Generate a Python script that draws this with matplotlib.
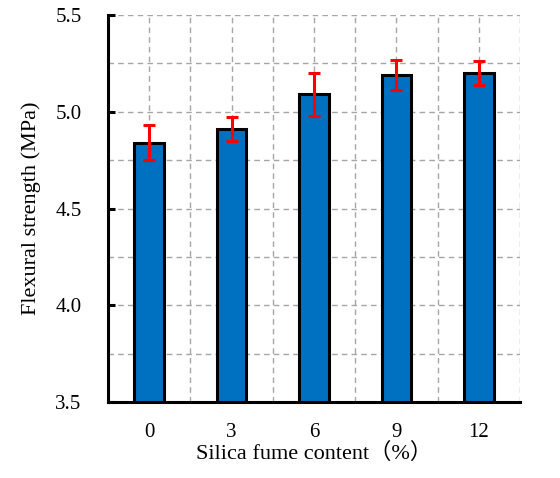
import matplotlib
matplotlib.use("Agg")
import matplotlib.pyplot as plt
from matplotlib.ticker import MultipleLocator
import numpy as np

categories = ["0", "3", "6", "9", "12"]
values = [4.84, 4.91, 5.09, 5.19, 5.20]
errors = [0.09, 0.063, 0.11, 0.078, 0.063]

plt.rcParams['font.family'] = ['Liberation Serif', 'Noto Sans CJK SC']

fig = plt.figure(figsize=(5.6, 4.78), dpi=100)
ax = fig.add_axes([108/560, 1-402/478, 412/560, 387/478])

x = np.arange(len(categories))
ax.bar(x, values, width=0.36, color='#0070C0', edgecolor='black', linewidth=2.2, zorder=3)
ax.errorbar(x, values, yerr=errors, fmt='none', ecolor='#FF0000', elinewidth=2.2,
            capsize=4, capthick=2.2, zorder=4)

ax.set_xlim(-0.5, 4.5)
ax.set_ylim(3.5, 5.5)
ax.yaxis.set_major_locator(MultipleLocator(0.5))
ax.yaxis.set_minor_locator(MultipleLocator(0.25))
ax.set_xticks(x)
ax.set_xticklabels(categories)
ax.xaxis.set_minor_locator(MultipleLocator(0.5))
ax.set_yticks(np.arange(3.5, 5.51, 0.5))
ax.set_yticklabels([f"{v:.1f}" for v in np.arange(3.5, 5.51, 0.5)])

ax.grid(True, which='both', axis='both', color='#A6A6A6', linestyle=(0, (4, 3)), linewidth=1.0, zorder=0)
ax.set_axisbelow(True)

for s in ['top', 'right']:
    ax.spines[s].set_visible(False)
for s in ['left', 'bottom']:
    ax.spines[s].set_linewidth(2.2)
    ax.spines[s].set_zorder(5)

ax.tick_params(axis='y', which='major', direction='in', length=5, width=2.2, labelsize=15, pad=19)
ax.tick_params(axis='y', which='minor', length=0)
ax.tick_params(axis='x', which='both', length=0, labelsize=15, pad=15)

ax.set_ylabel("Flexural strength (MPa)", fontsize=16, labelpad=10)
ax.set_xlabel("Silica fume content（%）", fontsize=16, labelpad=0.5)

fig.savefig("out.png", dpi=100)
